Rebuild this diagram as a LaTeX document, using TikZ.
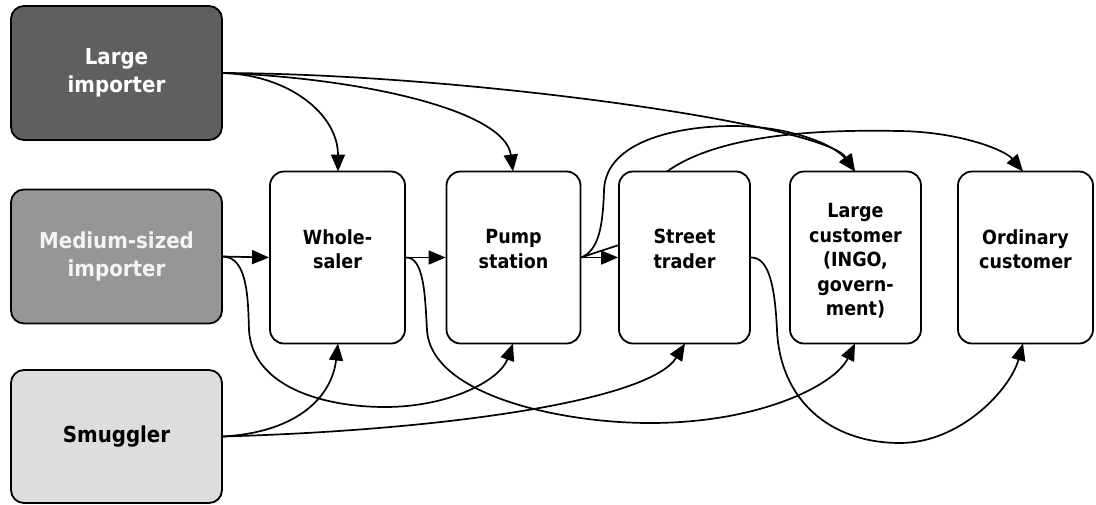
\documentclass[tikz,border=0pt]{standalone}
\usepackage{fontspec}
\setmainfont{DejaVu Sans Condensed}[BoldFont={DejaVu Sans Condensed Bold}]
\usetikzlibrary{arrows.meta}
\pgfdeclarelayer{bg}\pgfsetlayers{bg,main}
\definecolor{dk}{HTML}{5F5F5F}
\definecolor{md}{HTML}{969696}
\definecolor{lt}{HTML}{DDDDDD}
\definecolor{mdtxt}{HTML}{F4F4F4}
\begin{document}
\begin{tikzpicture}[x=1pt,y=-1pt,
  src/.style={draw=black, line width=1.8pt, rounded corners=13pt, minimum width=211pt, minimum height=134pt, inner sep=0pt, align=center, font=\bfseries\fontsize{22}{28}\selectfont},
  mid/.style={draw=black, line width=1.8pt, rounded corners=14pt, fill=white, minimum width=134pt, minimum height=172pt, inner sep=0pt},
  midtext/.style={align=center, inner sep=0pt, font=\bfseries\fontsize{19.5}{24.5}\selectfont},
  flow/.style={line width=1.7pt, -{Triangle[length=17pt,width=14pt]}}]
\useasboundingbox (0,0) rectangle (1096,504);
% source boxes
\node[src, fill=dk, text=white] (LI) at (116.5,73) {Large\\importer};
\node[src, fill=md, text=mdtxt] (MI) at (116.5,256.5) {Medium-sized\\importer};
\node[src, fill=lt, text=black, minimum height=133pt] (SM) at (116.5,436.5) {Smuggler};
% middle boxes
\node[mid, minimum width=135pt] (WS) at (337.5,257.5) {};
\node[mid] (PS) at (513.5,257.5) {};
\node[mid, minimum width=131pt] (ST) at (684.5,257.5) {};
\node[mid, minimum width=131pt] (LC) at (855.5,257.5) {};
\node[mid, minimum width=135pt] (OC) at (1025.5,257.5) {};
\node[midtext] (WSt) at (337.5,249) {Whole-\\saler};
\node[midtext] (PSt) at (513.5,249) {Pump\\station};
\node[midtext] (STt) at (684.5,249) {Street\\trader};
\node[midtext] (LCt) at (855.5,261) {Large\\customer\\(INGO,\\govern-\\ment)};
\node[midtext] (OCt) at (1025.5,249) {Ordinary\\customer};
\coordinate (WSn) at (338,171.5);
\coordinate (WSs) at (338,343.5);
\coordinate (PSn) at (513,171.5);
\coordinate (PSs) at (513,343.5);
\coordinate (STs) at (685,343.5);
\coordinate (LCn) at (855,171.5);
\coordinate (LCs) at (855,343.5);
\coordinate (OCn) at (1023,171.5);
\coordinate (OCs) at (1023,343.5);
\begin{pgfonlayer}{bg}
% from large importer
\draw[flow] (LI.east) .. controls (290,75) and (338,115) .. (WSn);
\draw[flow] (LI.east) .. controls (360,78) and (505,110) .. (PSn);
\draw[flow] (LI.east) .. controls (470,74) and (825,125) .. (LCn);
% from medium importer
\draw[flow] (MI.east) -- (WS.west);
\draw[flow] (MI.east) .. controls (248,257) and (248,300) .. (249,330)
  .. controls (252,385) and (320,407) .. (385,407)
  .. controls (450,407) and (500,380) .. (PSs);
% from smuggler
\draw[flow] (SM.east) .. controls (300,432) and (332,395) .. (WSs);
\draw[flow] (SM.east) .. controls (450,430) and (650,400) .. (STs);
% from wholesaler
\draw[flow] (WS.east) -- (PS.west);
\draw[flow] (WS.east) .. controls (424,257) and (425,295) .. (427,330)
  .. controls (431,395) and (560,423) .. (650,423)
  .. controls (760,423) and (835,385) .. (LCs);
% from pump station
\draw[flow] (PS.east) -- (ST.west);
\draw[flow] (PS.east) .. controls (599,250) and (603,225) .. (604,190)
  .. controls (606,140) and (680,126) .. (733,126)
  .. controls (790,126) and (835,145) .. (LCn);
\draw[flow] (PS.east) .. controls (597,252) and (610,248) .. (622,244)
  .. controls (650,235) and (655,185) .. (667,171.5)
  .. controls (725,130) and (840,130) .. (900,131)
  .. controls (960,132) and (1005,150) .. (OCn);
% from street trader
\draw[flow] (ST.east) .. controls (770,257) and (775,290) .. (777,330)
  .. controls (780,400) and (830,443) .. (900,443)
  .. controls (960,443) and (1010,390) .. (OCs);
\end{pgfonlayer}
\end{tikzpicture}
\end{document}
